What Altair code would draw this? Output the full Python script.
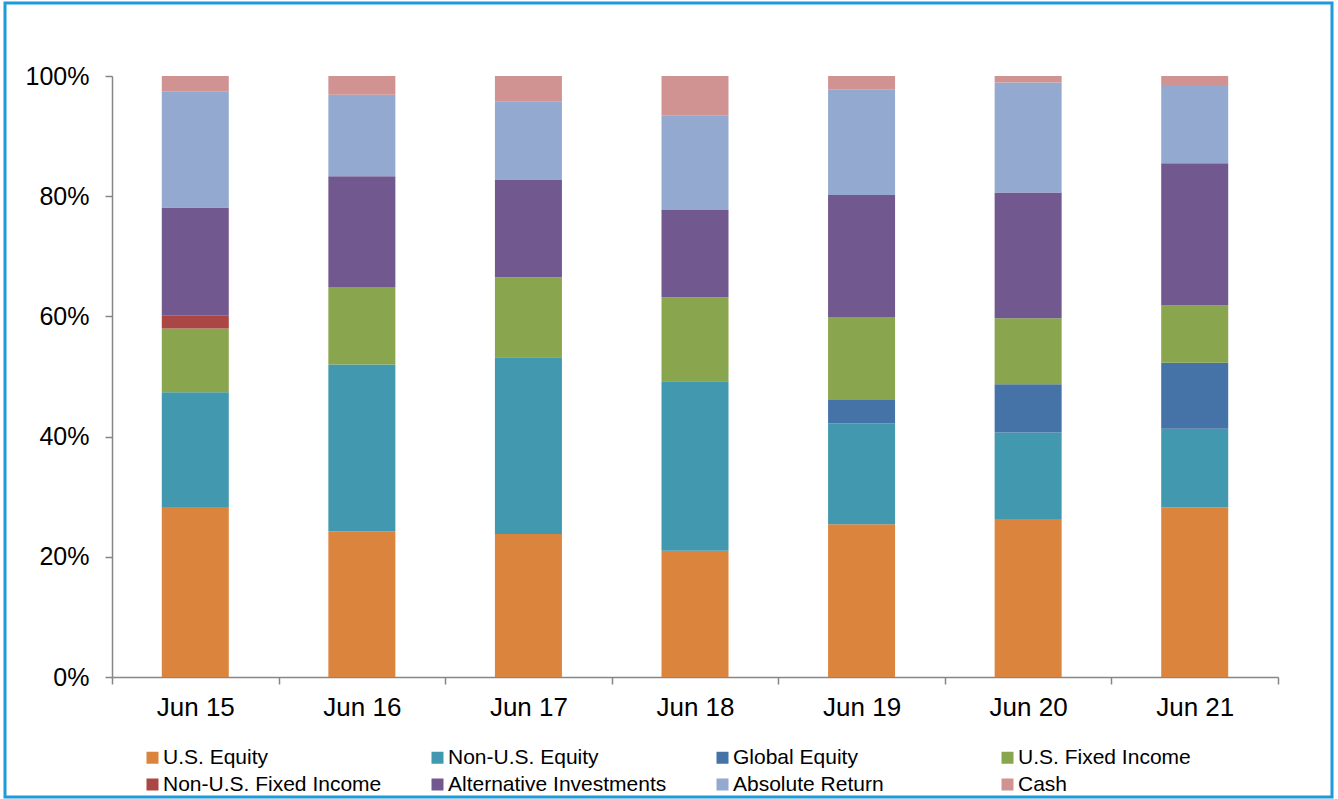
import altair as alt
import pandas as pd

periods = ["Jun 15", "Jun 16", "Jun 17", "Jun 18", "Jun 19", "Jun 20", "Jun 21"]
series = ["U.S. Equity", "Non-U.S. Equity", "Global Equity", "U.S. Fixed Income",
          "Non-U.S. Fixed Income", "Alternative Investments", "Absolute Return", "Cash"]
colors = ["#DB843D", "#4198AF", "#4572A7", "#89A54E",
          "#AA4643", "#71588F", "#93A9CF", "#D19392"]

us_equity = [28.3, 24.2, 23.8, 21.0, 25.4, 26.3, 28.2]
non_us_equity = [19.1, 27.8, 29.4, 28.2, 16.8, 14.4, 13.1]
global_equity = [0.0, 0.0, 0.0, 0.0, 3.9, 8.0, 11.0]
us_fixed_income = [10.6, 12.9, 13.3, 14.0, 13.8, 11.0, 9.5]
non_us_fixed_income = [2.1, 0.0, 0.0, 0.0, 0.0, 0.0, 0.0]
alternative = [18.0, 18.4, 16.2, 14.5, 20.3, 20.9, 23.7]
absolute_return = [19.3, 13.6, 13.0, 15.7, 17.6, 18.3, 13.0]
cash = [2.6, 3.1, 4.3, 6.6, 2.2, 1.1, 1.5]

all_values = [us_equity, non_us_equity, global_equity, us_fixed_income,
              non_us_fixed_income, alternative, absolute_return, cash]

rows = []
for si, (name, vals) in enumerate(zip(series, all_values)):
    for p, v in zip(periods, vals):
        if v > 0:
            rows.append({"period": p, "series": name, "value": v, "order": si})
df = pd.DataFrame(rows)

FONT = "Liberation Sans"
W, H = 1166, 601
PAD_L, PAD_T = 112, 76
PAD_R = 1338 - PAD_L - W
PAD_B = 799 - PAD_T - H

bars = alt.Chart(df).mark_bar(size=67).encode(
    x=alt.X("period:N", sort=periods, title=None,
            scale=alt.Scale(paddingInner=0, paddingOuter=0),
            axis=alt.Axis(labelAngle=0, tickBand="extent", tickSize=7,
                          labelPadding=10, labelFontSize=26, labelColor="#000000",
                          labelFont=FONT, domainColor="#868686", tickColor="#868686",
                          domainWidth=1.5, tickWidth=1.5)),
    y=alt.Y("value:Q", stack="zero", title=None,
            scale=alt.Scale(domain=[0, 100], nice=False),
            axis=alt.Axis(values=[0, 20, 40, 60, 80, 100], grid=False,
                          labelExpr="datum.value + '%'", tickSize=7, labelPadding=16,
                          labelFontSize=25, labelColor="#000000", labelFont=FONT,
                          domainColor="#868686", tickColor="#868686",
                          domainWidth=1.5, tickWidth=1.5)),
    color=alt.Color("series:N", scale=alt.Scale(domain=series, range=colors),
                    legend=alt.Legend(title=None, orient="none", legendX=30, legendY=671,
                                      direction="horizontal", columns=4, gridAlign="all",
                                      columnPadding=45, rowPadding=5, symbolSize=144,
                                      symbolType="square", symbolStrokeWidth=0,
                                      labelFontSize=21, labelFont=FONT, labelColor="#000000",
                                      labelOffset=0, padding=0, labelLimit=400)),
    order=alt.Order("order:Q", sort="ascending"),
)

frame = alt.Chart(pd.DataFrame({"a": [0]})).mark_rect(
    fill="transparent", stroke="#1E9AD8", strokeWidth=3
).encode(
    x=alt.value(5 - PAD_L), x2=alt.value(1332 - PAD_L),
    y=alt.value(3 - PAD_T), y2=alt.value(797 - PAD_T),
)

chart = alt.layer(bars, frame).properties(
    width=W, height=H,
    autosize=alt.AutoSizeParams(type="none"),
    padding={"left": PAD_L, "top": PAD_T, "right": PAD_R, "bottom": PAD_B},
    background="white",
).configure_view(stroke=None)

chart.save("out.html", embed_options={"renderer": "svg", "actions": False})
